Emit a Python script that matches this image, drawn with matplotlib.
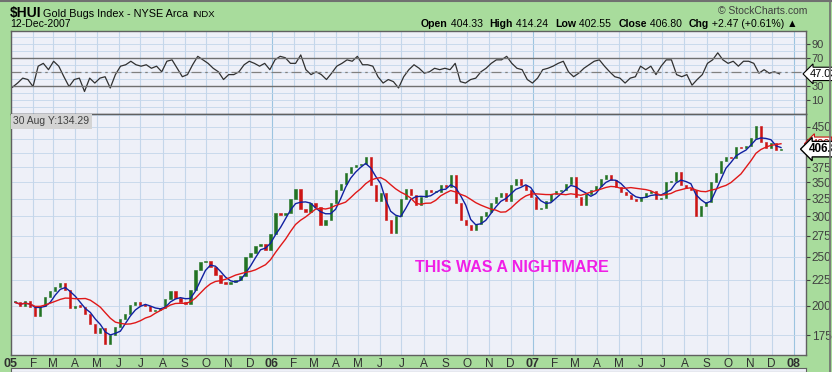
import matplotlib
matplotlib.use('Agg')
import matplotlib.pyplot as plt
import pandas as pd

plt.rcParams['font.family'] = ['Liberation Sans', 'DejaVu Sans']

# weekly closes (Jan 2005 - Dec 2007)
closes = [203, 200, 204, 199, 191, 200, 208, 214, 218, 222,
          215, 198, 200, 199, 193, 184, 177, 181, 168, 175,
          182, 188, 193, 201, 203, 201, 200, 195, 196, 198,
          206, 214, 207, 203, 202, 215, 235, 244, 245, 238,
          230, 222, 221, 223, 225, 229, 250, 254, 262, 265,
          258, 277, 304, 302, 304, 325, 340, 310, 306, 318,
          313, 288, 295, 318, 338, 348, 365, 375, 378, 380,
          392, 345, 322, 333, 295, 278, 300, 325, 340, 330,
          316, 328, 338, 335, 335, 345, 342, 362, 318, 295,
          288, 282, 290, 300, 306, 318, 327, 333, 322, 345,
          356, 345, 338, 328, 310, 312, 322, 332, 336, 338,
          348, 358, 328, 316, 332, 338, 344, 355, 362, 354,
          342, 335, 330, 325, 321, 328, 334, 336, 325, 326,
          350, 352, 367, 345, 341, 338, 300, 315, 320, 350,
          365, 385, 392, 390, 410, 408, 412, 428, 452, 420,
          408, 418, 406, 406.8]

# RSI(14)
rsi = [28, 34, 41, 39, 29, 58, 62, 53, 65, 58, 43, 29, 39, 41, 22, 41, 34, 41, 43, 27,
       46, 58, 60, 65, 60, 58, 60, 55, 58, 50, 65, 67, 55, 43, 46, 60, 72, 67, 62, 55,
       50, 39, 46, 46, 50, 60, 65, 62, 58, 62, 53, 67, 72, 70, 62, 62, 74, 53, 46, 50,
       46, 39, 48, 58, 62, 67, 65, 72, 60, 60, 58, 43, 34, 39, 36, 27, 43, 53, 60, 55,
       48, 50, 55, 53, 55, 53, 62, 36, 34, 39, 41, 50, 55, 62, 67, 67, 72, 62, 55, 53,
       39, 34, 41, 53, 55, 58, 62, 65, 50, 43, 48, 55, 60, 65, 67, 58, 50, 43, 41, 34,
       41, 43, 58, 53, 58, 46, 58, 67, 67, 46, 43, 46, 31, 39, 46, 62, 67, 77, 67, 62,
       65, 58, 65, 65, 62, 48, 53, 48, 50, 47.03]

month_labels = ['05', 'F', 'M', 'A', 'M', 'J', 'J', 'A', 'S', 'O', 'N', 'D',
                '06', 'F', 'M', 'A', 'M', 'J', 'J', 'A', 'S', 'O', 'N', 'D',
                '07', 'F', 'M', 'A', 'M', 'J', 'J', 'A', 'S', 'O', 'N', 'D',
                '08']
price_ticks = [175, 200, 225, 250, 275, 300, 325, 350, 375, 400, 425, 450]
price_labels = ['175', '200', '225', '250', '275', '300', '325', '350', '375', '', '', '450']
rsi_ticks = [10, 30, 50, 70, 90]
rsi_labels = ['10', '30', '', '70', '90']

week_dates = pd.date_range('2005-01-07', periods=len(closes), freq='W-FRI')
rsi_dates = pd.date_range('2005-01-03', '2007-12-12', periods=len(rsi))
months = pd.date_range('2005-01-01', '2008-01-01', freq='MS')

s = pd.Series(closes, index=week_dates)
opens = s.shift(1).fillna(s.iloc[0])
ma_fast = s.rolling(4, min_periods=1).mean()
ma_slow = s.rolling(10, min_periods=1).mean()

bg = '#a8dc9c'
panel = '#eef0f8'
grid = '#c4d6ea'

fig = plt.figure(figsize=(8.32, 3.72), dpi=100, facecolor=bg)
ax_r = fig.add_axes([11 / 832, 1 - 114 / 372, 795 / 832, 83 / 372])
ax_p = fig.add_axes([11 / 832, 1 - 355 / 372, 795 / 832, 241 / 372], sharex=ax_r)

# strip of the next panel at the very bottom
ax_b = fig.add_axes([11 / 832, 0, 795 / 832, 4 / 372])
ax_b.set_facecolor(panel)
ax_b.set_xticks([])
ax_b.set_yticks([])
for sp in ax_b.spines.values():
    sp.set_color('#606060')

xmin, xmax = pd.Timestamp('2005-01-01'), pd.Timestamp('2008-01-18')

for ax in (ax_r, ax_p):
    ax.set_facecolor(panel)
    for sp in ax.spines.values():
        sp.set_color('#606060')
        sp.set_linewidth(1)
    for m in months:
        ax.axvline(m, color='#9cc4e0' if m.month == 1 else grid, lw=0.8, zorder=0)

# RSI panel
ax_r.plot(rsi_dates, rsi, color='#303030', lw=0.9)
for v in range(0, 101, 10):
    ax_r.axhline(v, color=grid, lw=0.6, zorder=0)
ax_r.axhline(70, color='#707070', lw=1)
ax_r.axhline(30, color='#707070', lw=1)
ax_r.axhline(50, color='#808080', lw=0.9, ls=(0, (8, 3, 2, 3)))
ax_r.set_ylim(-10, 108)
ax_r.yaxis.tick_right()
ax_r.set_yticks(rsi_ticks)
ax_r.set_yticklabels(rsi_labels)
ax_r.tick_params(axis='y', length=3, pad=1, labelsize=8, colors='#404040')
ax_r.tick_params(axis='x', length=0, labelbottom=False)
ax_r.annotate('47.03', xy=(1.0, rsi[-1]), xycoords=('axes fraction', 'data'),
              xytext=(3, 0), textcoords='offset points', va='center', ha='left',
              fontsize=8, annotation_clip=False,
              bbox=dict(boxstyle='larrow,pad=0.15', fc='white', ec='black', lw=0.8))

# price panel
for d, o, c in zip(week_dates, opens, s):
    col = '#237323' if c >= o else '#cc1414'
    lo, hi = min(o, c), max(o, c)
    if hi - lo < 1.5:
        hi = lo + 1.5
    ax_p.bar(d, hi - lo, bottom=lo, width=3.0, color=col, edgecolor=col, lw=0.4, zorder=3)
ax_p.plot(ma_fast.index, ma_fast.values, color='#1020a0', lw=1, zorder=4)
ax_p.plot(ma_slow.index, ma_slow.values, color='#e01818', lw=1, zorder=4)

ax_p.set_yscale('log')
ax_p.set_ylim(160, 477)
ax_p.set_yticks(price_ticks)
ax_p.set_yticklabels(price_labels)
ax_p.minorticks_off()
ax_p.yaxis.tick_right()
ax_p.tick_params(axis='y', length=3, pad=1, labelsize=8.5, colors='#404040')
for t in price_ticks + [475]:
    ax_p.axhline(t, color=grid, lw=0.6, zorder=0)

ax_p.set_xlim(xmin, xmax)
ax_p.set_xticks(months)
ax_p.set_xticklabels(month_labels)
ax_p.tick_params(axis='x', length=0, pad=2, labelsize=8.5, colors='#303030')
for lab in ax_p.get_xticklabels():
    if lab.get_text().isdigit():
        lab.set_fontweight('bold')
        lab.set_fontsize(9)

ax_p.annotate('420', xy=(1.0, ma_slow.iloc[-1]), xycoords=('axes fraction', 'data'),
              xytext=(4, 0), textcoords='offset points', va='center', ha='left',
              fontsize=8, color='#a00000', annotation_clip=False, zorder=5,
              bbox=dict(boxstyle='larrow,pad=0.15', fc='white', ec='#d01010', lw=0.8))
ax_p.annotate('406.8', xy=(1.0, closes[-1]), xycoords=('axes fraction', 'data'),
              xytext=(2, 0), textcoords='offset points', va='center', ha='left',
              fontsize=8.5, fontweight='bold', annotation_clip=False, zorder=6,
              bbox=dict(boxstyle='larrow,pad=0.15', fc='white', ec='black', lw=1))

ax_p.text(0.003, 0.99, '30 Aug Y:134.29', transform=ax_p.transAxes, fontsize=7.5,
          color='#404040', va='top', ha='left',
          bbox=dict(boxstyle='square,pad=0.25', fc='#d4d4d4', ec='none'))

ax_p.text(pd.Timestamp('2006-12-02'), 237.5, 'THIS WAS A NIGHTMARE', color='#f01ee6',
          fontsize=11.5, fontweight='bold', ha='center', va='center', zorder=5)

# header
fig.text(10 / 832, 1 - 17 / 372, '$HUI', fontsize=10, fontweight='bold', va='baseline')
fig.text(43 / 832, 1 - 17 / 372, 'Gold Bugs Index - NYSE Arca', fontsize=7.8, va='baseline')
fig.text(192 / 832, 1 - 17 / 372, 'INDX', fontsize=6.8, va='baseline')
fig.text(10 / 832, 1 - 27 / 372, '12-Dec-2007', fontsize=7.5, va='baseline')
fig.text(807 / 832, 1 - 14 / 372, '\u00a9 StockCharts.com', fontsize=7.5, va='baseline',
         ha='right', color='#404040')

# OHLC line, pieces laid out left to right
parts = [('Open', True), (' 404.33', False), ('High', True), (' 414.24', False),
         ('Low', True), (' 402.55', False), ('Close', True), (' 406.80', False),
         ('Chg', True), (' +2.47 (+0.61%) \u25b2', False)]
renderer = fig.canvas.get_renderer()
xpix = 421
for i, (txt, bold) in enumerate(parts):
    t = fig.text(xpix / 832, 1 - 27 / 372, txt, fontsize=7.6, va='baseline',
                 fontweight='bold' if bold else 'normal')
    w = t.get_window_extent(renderer).width
    xpix += w + (7 if (not bold and i < len(parts) - 1) else 0)

# frame lines at top and right
fig.add_artist(plt.Line2D([0, 1], [0.998, 0.998], transform=fig.transFigure, color='#707070', lw=1.5))
fig.add_artist(plt.Line2D([0.997, 0.997], [0, 1], transform=fig.transFigure, color='#707070', lw=1.2))

fig.savefig('out.png', dpi=100, facecolor=bg)
